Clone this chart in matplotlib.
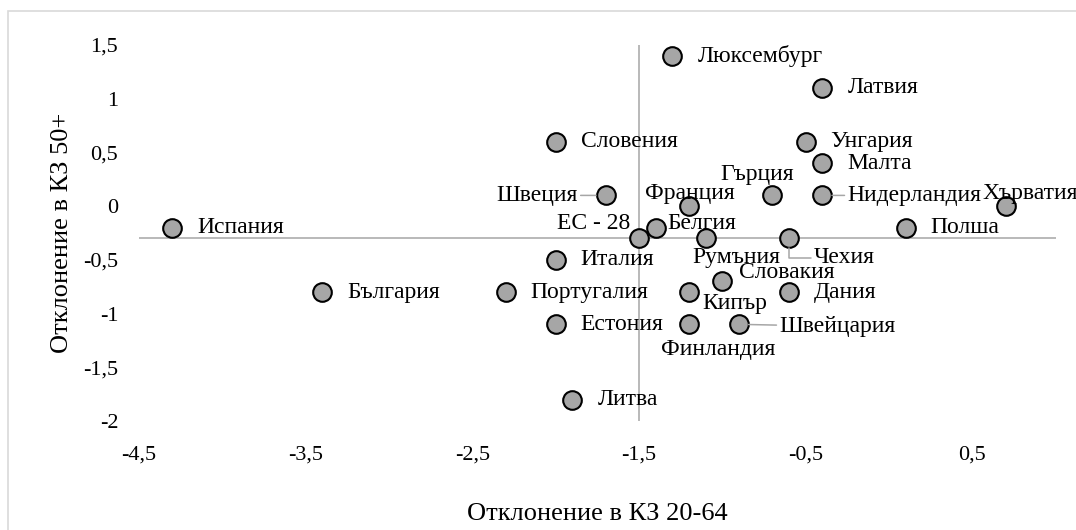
import matplotlib.pyplot as plt
from matplotlib.patches import Rectangle

plt.rcParams['font.family'] = ['Liberation Serif', 'DejaVu Serif']

countries = ["Люксембург", "Латвия", "Словения", "Унгария", "Малта", "Швеция",
             "Франция", "Гърция", "Нидерландия", "Хърватия", "Испания", "Белгия",
             "ЕС - 28", "Румъния", "Чехия", "Полша", "Италия", "Словакия",
             "България", "Португалия", "Кипър", "Дания", "Естония", "Финландия",
             "Швейцария", "Литва"]
dev_20_64 = [-1.3, -0.4, -2.0, -0.5, -0.4, -1.7, -1.2, -0.7, -0.4, 0.7, -4.3, -1.4,
             -1.5, -1.1, -0.6, 0.1, -2.0, -1.0, -3.4, -2.3, -1.2, -0.6, -2.0, -1.2,
             -0.9, -1.9]
dev_50 = [1.4, 1.1, 0.6, 0.6, 0.4, 0.1, 0.0, 0.1, 0.1, 0.0, -0.2, -0.2,
          -0.3, -0.3, -0.3, -0.2, -0.5, -0.7, -0.8, -0.8, -0.8, -0.8, -1.1, -1.1,
          -1.1, -1.8]

xticks = [-4.5, -3.5, -2.5, -1.5, -0.5, 0.5]
yticks = [-2, -1.5, -1, -0.5, 0, 0.5, 1, 1.5]

# label placement in points: (dx, dy, ha, leader line)
R = (18, 0, "left", False)
offsets = {
    "Люксембург": R, "Латвия": R, "Словения": R, "Унгария": R, "Малта": R,
    "Испания": R, "Полша": R, "Италия": R, "България": R, "Португалия": R,
    "Дания": R, "Естония": R, "Литва": R,
    "Швеция": (-20, 0, "right", True),
    "Франция": (1, 9, "center", False),
    "Гърция": (-11, 15, "center", False),
    "Нидерландия": (18, 0, "left", True),
    "Хърватия": (-17, 9, "left", False),
    "Белгия": (8.5, 3, "left", False),
    "ЕС - 28": (-6.5, 11, "right", False),
    "Румъния": (22, -14, "center", False),
    "Чехия": (18, -14, "left", True),
    "Словакия": (12, 6.5, "left", False),
    "Кипър": (9.5, -8, "left", False),
    "Финландия": (21, -18, "center", False),
    "Швейцария": (29, -1.5, "left", True),
}

W, H = 1076, 530
fig = plt.figure(figsize=(W / 100, H / 100), dpi=100)
ax = fig.add_axes([139 / W, 1 - 421 / H, (1055.6 - 139) / W, (421 - 45) / H])

ax.set_xlim(-4.5, 1.0)
ax.set_ylim(-2, 1.5)

for s in ax.spines.values():
    s.set_visible(False)
ax.axvline(-1.5, color="#a6a6a6", lw=1.1, zorder=1)
ax.axhline(-0.3, color="#a6a6a6", lw=1.1, zorder=1)

ax.scatter(dev_20_64, dev_50, s=180, facecolor="#a6a6a6", edgecolor="black",
           linewidth=1.5, zorder=3)

for name, x, y in zip(countries, dev_20_64, dev_50):
    dx, dy, ha, leader = offsets[name]
    arrow = None
    if leader:
        style = "angle,angleA=0,angleB=90,rad=0" if name == "Чехия" else "arc3"
        arrow = dict(arrowstyle="-", color="#a6a6a6", lw=1.1,
                     shrinkA=0, shrinkB=7, connectionstyle=style)
    ax.annotate(name, (x, y), xytext=(dx, dy), textcoords="offset points",
                ha=ha, va="center", fontsize=17, zorder=4, arrowprops=arrow,
                annotation_clip=False)

ax.set_xticks(xticks)
ax.set_xticklabels([str(t).replace(".", ",") for t in xticks], fontsize=16)
ax.set_yticks(yticks)
ax.set_yticklabels([("%g" % t).replace(".", ",") for t in yticks], fontsize=16)
ax.tick_params(length=0)
ax.tick_params(axis="y", pad=15)
ax.tick_params(axis="x", pad=18)

ax.set_xlabel("Отклонение в КЗ 20-64", fontsize=19)
ax.xaxis.set_label_coords(0.5, -(514 - 421) / 376)
ax.xaxis.label.set_va("center")
ax.set_ylabel("Отклонение в КЗ 50+", fontsize=19)
ax.yaxis.set_label_coords((62 - 139) / 916.6, 0.5)
ax.yaxis.label.set_va("center")

fig.patches.append(Rectangle((8 / W, -0.1), 1.2, 1 - 11 / H + 0.1,
                             transform=fig.transFigure, fill=False,
                             edgecolor="#d9d9d9", lw=1.2))

plt.savefig("out.png", dpi=100)
